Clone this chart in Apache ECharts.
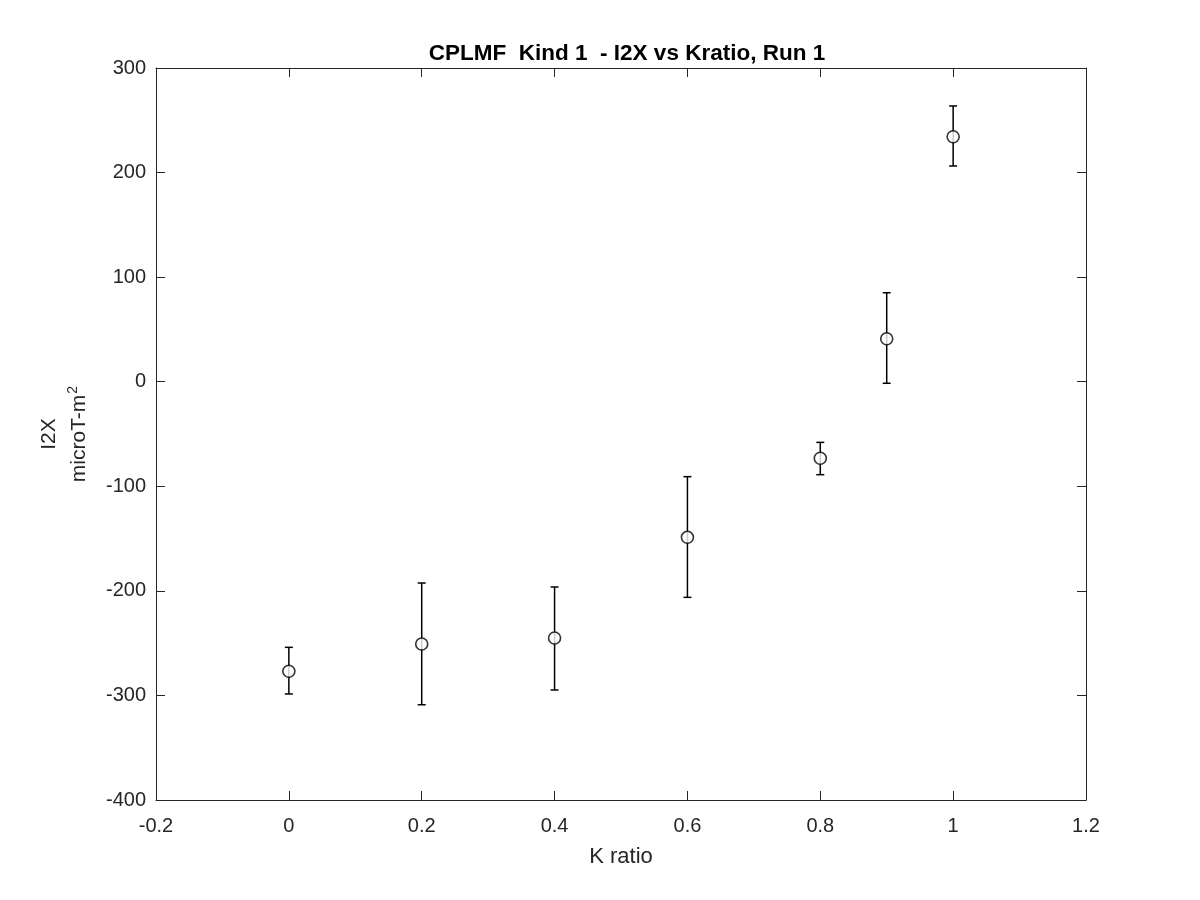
<!DOCTYPE html>
<html><head><meta charset="utf-8">
<script src="https://cdn.jsdelivr.net/npm/echarts@6/dist/echarts.min.js"></script>
<style>html,body{margin:0;padding:0;background:#fff}#c{width:1200px;height:900px}</style>
</head><body><div id="c"></div>
<script>
const kRatio = [0, 0.2, 0.4, 0.6, 0.8, 0.9, 1.0];
const i2x = [-276.9, -250.8, -245.1, -148.8, -73.2, 41.1, 234.3];
const errLow = [-298.6, -308.9, -294.8, -206.2, -88.9, -1.5, 206.3];
const errHigh = [-254.0, -192.5, -196.3, -90.8, -58.0, 85.1, 263.7];
const xTicks = {min: -0.2, max: 1.2, interval: 0.2};
const yTicks = {min: -400, max: 300, interval: 100};

const font = 'Liberation Sans, Arial, Helvetica, sans-serif';
const ink = '#262626';
const chart = echarts.init(document.getElementById('c'), null, {renderer: 'canvas'});
const errData = kRatio.map((x, i) => [x, errLow[i], errHigh[i]]);
const ptData = kRatio.map((x, i) => [x, i2x[i]]);

const baseAxis = {
  axisLine: {show: true, onZero: false, lineStyle: {color: ink, width: 1}},
  axisTick: {show: true, inside: true, length: 9, lineStyle: {color: ink, width: 1}},
  splitLine: {show: false},
};
chart.setOption({
  animation: false,
  backgroundColor: '#fff',
  title: {
    text: 'CPLMF  Kind 1  - I2X vs Kratio, Run 1',
    left: 622, top: 37, textAlign: 'center',
    textStyle: {fontFamily: font, fontSize: 22.5, fontWeight: 'bold', color: '#000'}
  },
  grid: {left: 156, right: 114, top: 68, bottom: 100, containLabel: false},
  xAxis: [
    Object.assign({}, baseAxis, {
      type: 'value', position: 'bottom', min: xTicks.min, max: xTicks.max, interval: xTicks.interval,
      name: 'K ratio', nameLocation: 'middle', nameGap: 46,
      nameTextStyle: {fontFamily: font, fontSize: 22, color: ink},
      axisLabel: {fontFamily: font, fontSize: 20, color: ink, margin: 16}
    }),
    Object.assign({}, baseAxis, {
      type: 'value', position: 'top', min: xTicks.min, max: xTicks.max, interval: xTicks.interval,
      axisLabel: {show: false}
    })
  ],
  yAxis: [
    Object.assign({}, baseAxis, {
      type: 'value', position: 'left', min: yTicks.min, max: yTicks.max, interval: yTicks.interval,
      name: '{n|I2X}\n{n|microT-m}{s|2}', nameLocation: 'middle', nameGap: 62,
      nameTextStyle: {
        fontFamily: font, fontSize: 21, color: ink, lineHeight: 30,
        rich: {
          n: {fontFamily: font, fontSize: 21, color: ink, lineHeight: 30},
          s: {fontFamily: font, fontSize: 14, color: ink, lineHeight: 30, padding: [0, 0, 12, 1]}
        }
      },
      axisLabel: {fontFamily: font, fontSize: 20, color: ink, margin: 10}
    }),
    Object.assign({}, baseAxis, {
      type: 'value', position: 'right', min: yTicks.min, max: yTicks.max, interval: yTicks.interval,
      axisLabel: {show: false}
    })
  ],
  series: [
    {
      type: 'custom',
      data: errData,
      z: 3,
      renderItem: function (params, api) {
        const x = api.value(0);
        const lo = api.coord([x, api.value(1)]);
        const hi = api.coord([x, api.value(2)]);
        const cap = 4;
        const style = {stroke: '#000', lineWidth: 1.5};
        return {
          type: 'group',
          children: [
            {type: 'line', shape: {x1: lo[0], y1: lo[1], x2: hi[0], y2: hi[1]}, style: style},
            {type: 'line', shape: {x1: lo[0] - cap, y1: lo[1], x2: lo[0] + cap, y2: lo[1]}, style: style},
            {type: 'line', shape: {x1: hi[0] - cap, y1: hi[1], x2: hi[0] + cap, y2: hi[1]}, style: style}
          ]
        };
      }
    },
    {
      type: 'scatter',
      data: ptData,
      z: 4,
      symbol: 'circle',
      symbolSize: 12,
      itemStyle: {color: '#fff', borderColor: '#000', borderWidth: 1.6}
    }
  ]
});
</script>
</body></html>
